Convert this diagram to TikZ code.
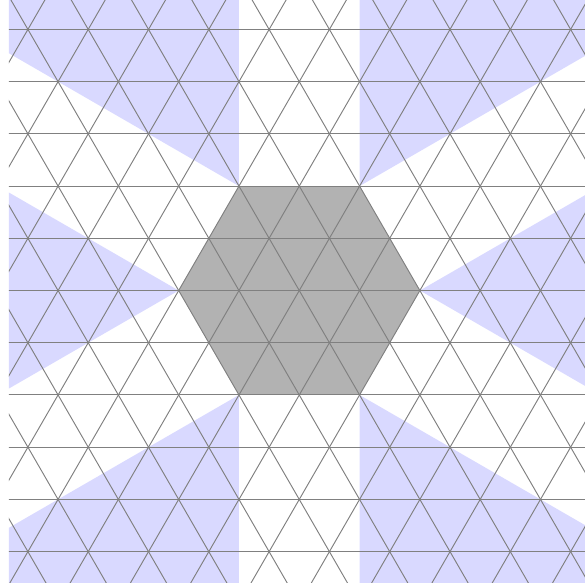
\documentclass[tikz,border=0pt]{standalone}
\usepackage{tikz}

\begin{document}
\begin{tikzpicture}[x=1cm,y=1cm]
\tikzstyle{lattice}=[gray, line width=0.45pt]
\tikzstyle{wedge}=[fill=blue!15]
\tikzstyle{hexagon}=[fill=gray!60]
\useasboundingbox (-4.963,-4.900) rectangle (4.738,4.818);
\begin{scope}
\clip (-4.814,-4.834) rectangle (4.738,4.818);
% blue wedges at the corners of the hexagon
\foreach \a in {0,60,...,300}
  \fill[wedge, shift={(\a:2)}] (0,0) -- (\a-30:12) -- (\a+30:12) -- cycle;
% the hexagon
\fill[hexagon] (0:2) -- (60:2) -- (120:2) -- (180:2) -- (240:2) -- (300:2) -- cycle;
% triangular lattice
\foreach \k in {-6,...,6}
  \draw[lattice] (-6,\k*0.8660254) -- (6,\k*0.8660254);
\foreach \c in {-9,...,9} {
  \draw[lattice] (\c,0) ++(240:12) -- ++(60:24);
  \draw[lattice] (\c,0) ++(300:12) -- ++(120:24);
}
\end{scope}
\end{tikzpicture}
\end{document}
